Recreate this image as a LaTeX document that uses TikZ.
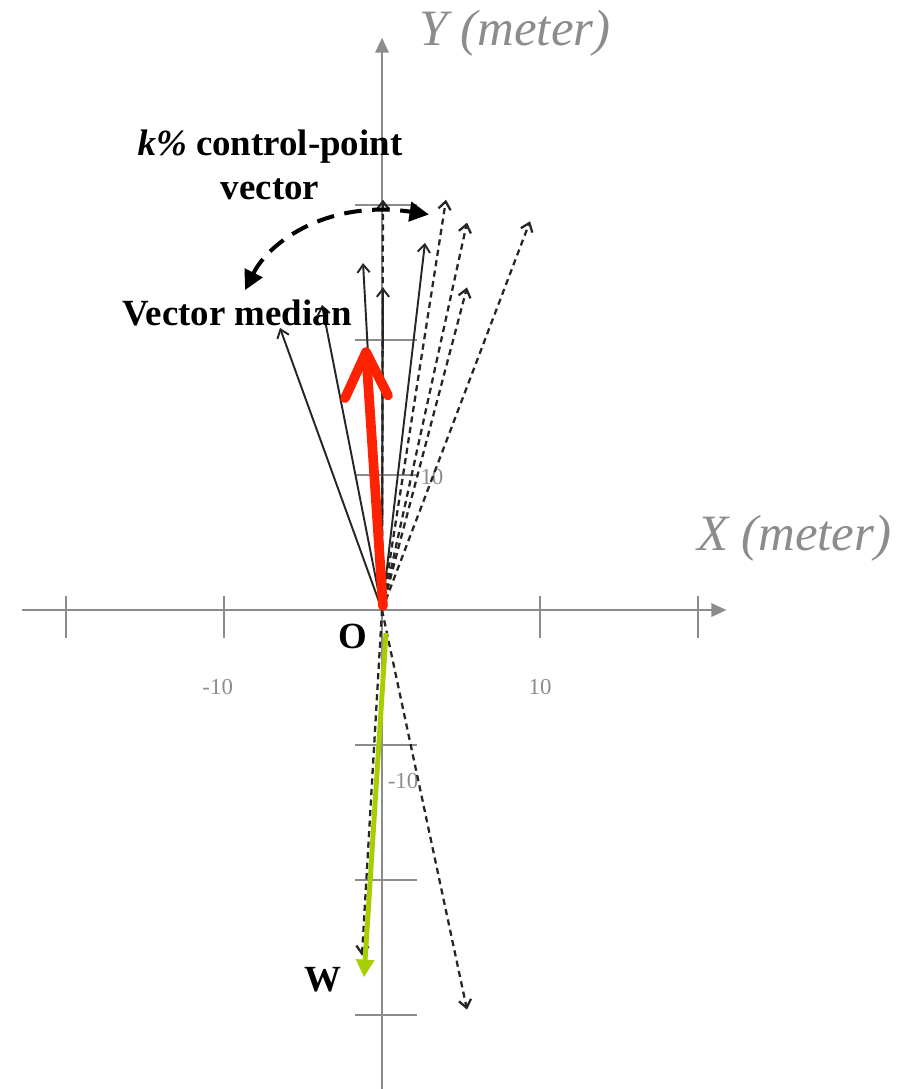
\documentclass[tikz,border=0pt]{standalone}
\usepackage{fontspec}
\setmainfont{Liberation Serif}
\usetikzlibrary{arrows.meta}
\definecolor{axisgray}{HTML}{8C8C8C}
\definecolor{medianred}{HTML}{FF2200}
\definecolor{wgreen}{HTML}{A6CE00}

\begin{document}
\begin{tikzpicture}[x=0.316cm, y=0.27cm,
  axis/.style={axisgray, line width=1.3pt, -{Triangle[length=8.5pt,width=7.5pt]}},
  axtick/.style={axisgray, line width=0.9pt},
  vec/.style={black!85, line width=1.1pt, -{Straight Barb[length=4.5pt,width=7pt]}},
  dvec/.style={vec, line width=1.3pt, dash pattern=on 3.5pt off 2.5pt},
  medianvec/.style={medianred, line width=5.5pt, line cap=round, line join=round},
  wvec/.style={wgreen, line width=2.8pt, -{Triangle[length=10pt,width=10pt]}},
  ctrlarc/.style={black, line width=2.3pt, dash pattern=on 10pt off 6pt,
    {Triangle[length=11pt,width=11pt]}-{Triangle[length=11pt,width=11pt]}},
  lbl/.style={font=\fontsize{21}{25}\selectfont\bfseries},
  ticklbl/.style={axisgray, font=\fontsize{13}{15}\selectfont},
  axlbl/.style={axisgray, font=\fontsize{29}{33}\selectfont\itshape}]

  \useasboundingbox (-24.18,-35.48) rectangle (33.73,45.19);

  % Axes
  \coordinate (O) at (0,0);
  \coordinate (xl) at (-22.8,0);
  \coordinate (xr) at (21.8,0);
  \coordinate (yb) at (0,-35.48);
  \coordinate (yt) at (0,42.4);
  \draw[axis] (xl) -- (xr);
  \draw[axis] (yb) -- (yt);
  \foreach \x in {-20,-10,10,20} \draw[axtick] (\x,1.04) -- (\x,-2.07);
  \foreach \y in {-30,-20,-10,10,20,30} \draw[axtick] (-1.7,\y) -- (2.2,\y);

  % Tick labels
  \node[ticklbl] (xm10) at (-10.4,-5.7) {-10};
  \node[ticklbl] (xp10) at (10.0,-5.7) {10};
  \node[ticklbl] (yp10) at (3.16,9.85) {10};
  \node[ticklbl] (ym10) at (1.33,-12.7) {-10};

  % Solid vectors
  \foreach \n/\x/\y in {va/-6.46/20.9, vb/-3.80/22.6, vc/-1.20/25.7, vd/0.06/23.9, ve/2.72/27.2} {
    \coordinate (\n) at (\x,\y);
    \draw[vec] (O) -- (\n);
  }

  % Dashed vectors
  \foreach \n/\x/\y in {vf/0.06/30.4, vg/4.05/30.4, vh/5.38/28.7, vi/5.38/23.9, vj/9.37/28.8, vk/5.38/-29.6, vl/-1.27/-25.6} {
    \coordinate (\n) at (\x,\y);
    \draw[dvec] (O) -- (\n);
  }

  % Vector median (red)
  \coordinate (rb) at (0.06,0.3);
  \coordinate (rt) at (-1.01,19.1);
  \coordinate (rl) at (-2.34,15.7);
  \coordinate (rr) at (0.38,15.9);
  \draw[medianvec] (rb) -- (rt);
  \draw[medianvec] (rl) -- (rt) -- (rr);

  % W (green)
  \coordinate (gb) at (0.25,-1.7);
  \coordinate (gt) at (-1.14,-27.2);
  \draw[wvec] (gb) -- (gt);

  % Curved double arrow
  \coordinate (cl) at (-8.67,23.7);
  \coordinate (cr) at (2.97,29.3);
  \draw[ctrlarc] (cl) .. controls (-7.09,27.4) and (-3.29,30.4) .. (cr);

  % Labels
  \node[axlbl] (ylab) at (8.42,42.7) {Y (meter)};
  \node[axlbl] (xlab) at (26.1,5.33) {X (meter)};
  \node[lbl, align=center] (kctrl) at (-7.09,33.0) {\textit{k\%} control-point\\vector};
  \node[lbl] (vmed) at (-9.18,22.0) {Vector median};
  \node[lbl] (olab) at (-1.84,-1.93) {O};
  \node[lbl] (wlab) at (-3.73,-27.4) {W};
\end{tikzpicture}
\end{document}
